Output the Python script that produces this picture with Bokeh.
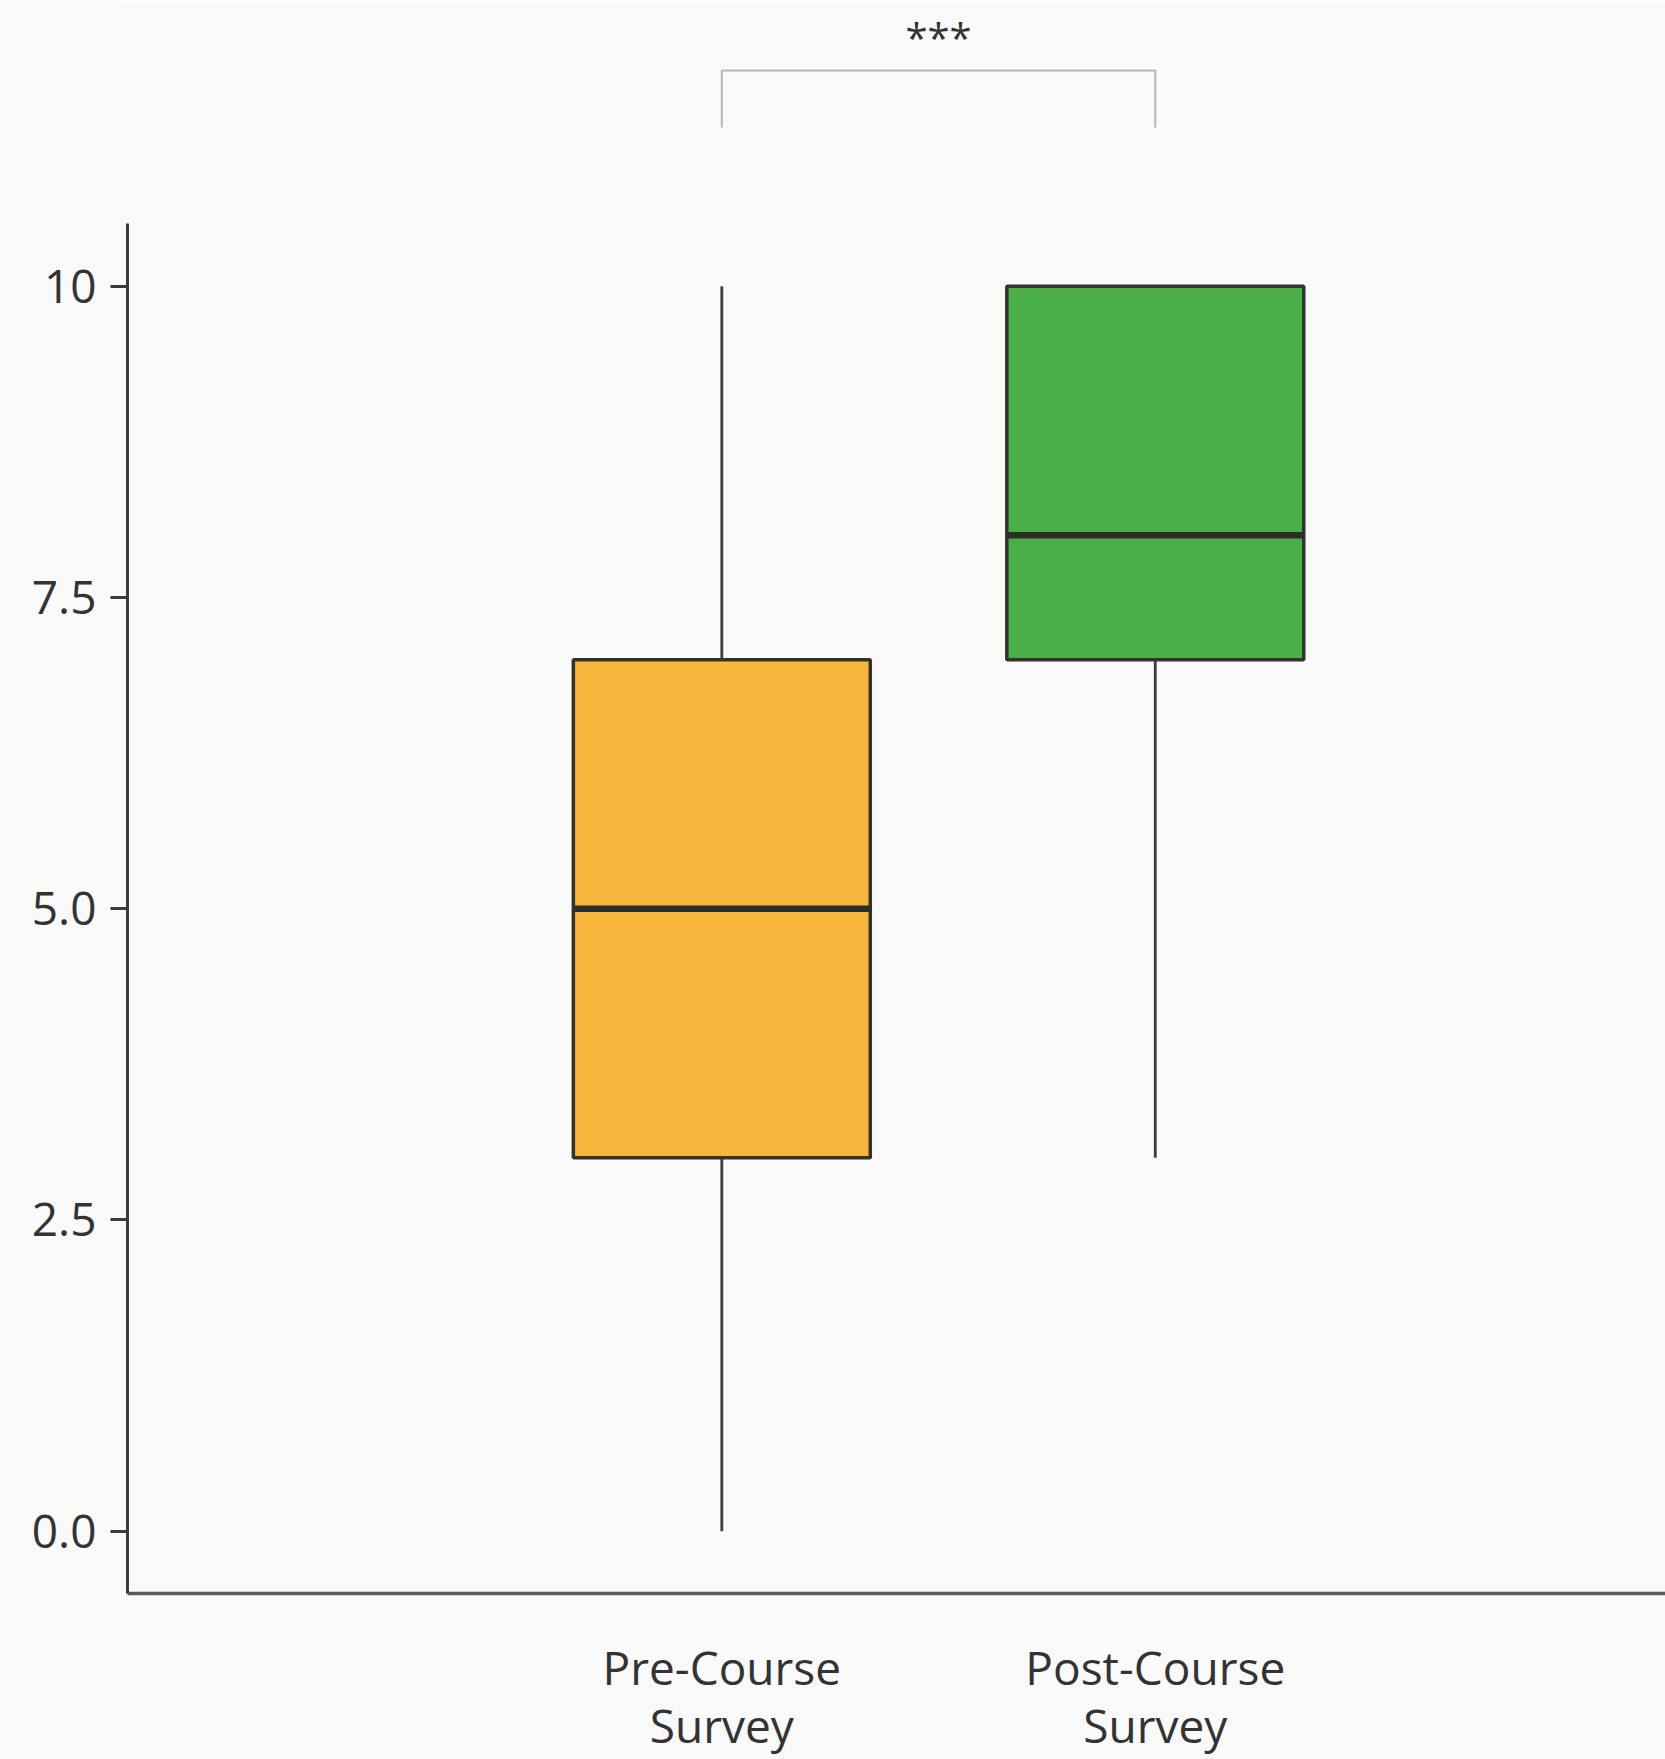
from bokeh.plotting import figure
from bokeh.models import FixedTicker, Range1d, ColumnDataSource
from bokeh.embed import file_html
from bokeh.resources import INLINE
from bokeh.core.properties import value

# ---- data ----
categories = ["Pre-Course\nSurvey", "Post-Course\nSurvey"]
positions = [1, 2]
whisker_low = [0.0, 3.0]
q1 = [3.0, 7.0]
median = [5.0, 8.0]
q3 = [7.0, 10.0]
whisker_high = [10.0, 10.0]
colors = ["#F8B63C", "#4BAF47"]
y_ticks = [0, 2.5, 5, 7.5, 10]
y_tick_labels = ["0.0", "2.5", "5.0", "7.5", "10"]
signif_text = "***"

FONT = "Open Sans"
BG = "#f8f9f8"

p = figure(width=1665, height=1759, output_backend="svg", toolbar_location=None,
           x_range=Range1d(-0.371, 3.177), y_range=Range1d(-0.5, 12.295),
           min_border_left=127, min_border_right=0, min_border_top=0,
           min_border_bottom=166)
p.background_fill_color = BG
p.border_fill_color = BG
p.outline_line_color = None
p.xgrid.visible = False
p.ygrid.visible = False

src = ColumnDataSource(dict(x=positions, lo=whisker_low, q1=q1, med=median,
                            q3=q3, hi=whisker_high, color=colors))

box_w = 0.685
# whiskers
p.segment(x0="x", y0="lo", x1="x", y1="q1", source=src, line_color="#3d3d3d", line_width=2.8)
p.segment(x0="x", y0="q3", x1="x", y1="hi", source=src, line_color="#3d3d3d", line_width=2.8)
# boxes
p.vbar(x="x", width=box_w, bottom="q1", top="q3", source=src, fill_color="color",
       line_color="#33332c", line_width=3.5)
# medians
src_med = ColumnDataSource(dict(x0=[x - box_w / 2 for x in positions],
                                x1=[x + box_w / 2 for x in positions], y=median))
p.segment(x0="x0", y0="y", x1="x1", y1="y", source=src_med, line_color="#2d2d2a", line_width=6.5)

# significance bracket
top_y = max(whisker_high) + 1.733
leg_y = max(whisker_high) + 1.275
p.line(x=[positions[0], positions[0], positions[1], positions[1]],
       y=[leg_y, top_y, top_y, leg_y], line_color="#b8b8b8", line_width=2)
p.text(x=[(positions[0] + positions[1]) / 2], y=[max(whisker_high) + 2.0],
       text=[signif_text], text_font=value(FONT), text_font_size="40px",
       text_align="center", text_baseline="alphabetic", text_color="#333333")

# y axis
ya = p.yaxis[0]
ya.ticker = FixedTicker(ticks=y_ticks)
ya.major_label_overrides = {t: l for t, l in zip(y_ticks, y_tick_labels)}
ya.bounds = (-0.5, 10.5)
ya.axis_line_color = "#3a3a3a"
ya.axis_line_width = 3
ya.major_tick_line_color = "#3a3a3a"
ya.major_tick_line_width = 3
ya.major_tick_out = 17
ya.major_tick_in = 0
ya.minor_tick_line_color = None
ya.major_label_standoff = 14
ya.major_label_text_font = FONT
ya.major_label_text_font_size = "46px"
ya.major_label_text_color = "#333333"

# x axis
xa = p.xaxis[0]
xa.ticker = FixedTicker(ticks=positions)
xa.major_label_overrides = {t: l for t, l in zip(positions, categories)}
xa.axis_line_color = "#5a5a5a"
xa.axis_line_width = 3.5
xa.major_tick_line_color = None
xa.major_tick_out = 0
xa.major_tick_in = 0
xa.minor_tick_line_color = None
xa.major_label_standoff = 42
xa.major_label_text_font = FONT
xa.major_label_text_font_size = "46px"
xa.major_label_text_color = "#333333"
xa.major_label_text_line_height = 0.95

open("out.html", "w").write(file_html(p, INLINE))
